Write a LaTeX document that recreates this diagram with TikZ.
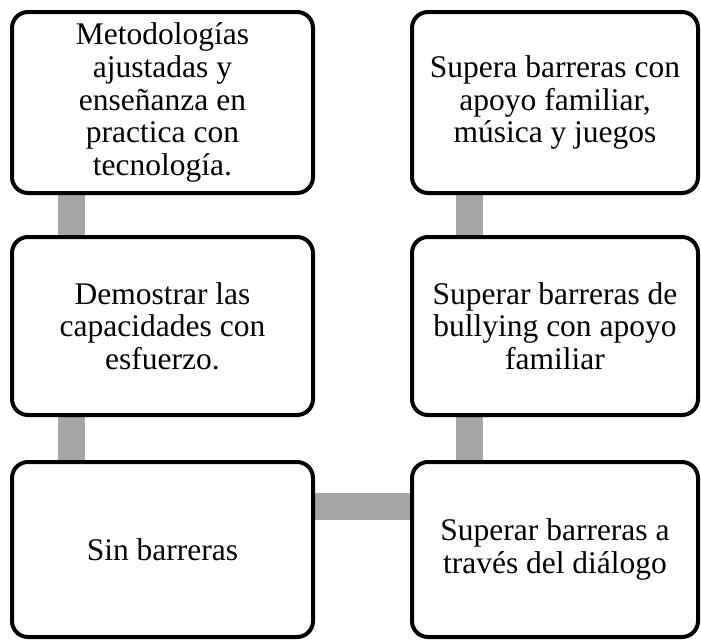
\documentclass[tikz,border=0pt]{standalone}
\usepackage{fontspec}
\setmainfont{Liberation Serif}
\usetikzlibrary{backgrounds,calc}
\definecolor{linkgray}{RGB}{166,166,166}
\begin{document}
\begin{tikzpicture}[x=1pt,y=-1pt,
  box/.style={draw=black, line width=4pt, rounded corners=16pt, fill=white,
    align=center, inner sep=0pt, font=\fontsize{31.5}{32.7}\selectfont},
  link/.style={draw=linkgray, line width=27pt}]
\useasboundingbox (0,0) rectangle (701,640);
\node[box, minimum width=301pt, minimum height=181pt] (tl) at (162.5,102.5)
  {Metodologías\\ajustadas y\\enseñanza en\\practica con\\tecnología.};
\node[box, minimum width=286pt, minimum height=181pt] (tr) at (555,102.5)
  {Supera barreras con\\apoyo familiar,\\música y juegos};
\node[box, minimum width=301pt, minimum height=178pt] (ml) at (162.5,326)
  {Demostrar las\\capacidades con\\esfuerzo.};
\node[box, minimum width=286pt, minimum height=178pt] (mr) at (555,326)
  {Superar barreras de\\bullying con apoyo\\familiar};
\node[box, minimum width=301pt, minimum height=175pt] (bl) at (162.5,549.5)
  {Sin barreras};
\node[box, minimum width=286pt, minimum height=175pt] (br) at (555,549.5)
  {Superar barreras a\\través del diálogo};
\begin{pgfonlayer}{background}
\draw[link] ($(tl.south west)+(61.5,0)$) -- ($(ml.north west)+(61.5,0)$);
\draw[link] ($(ml.south west)+(61.5,0)$) -- ($(bl.north west)+(61.5,0)$);
\draw[link] ($(bl.east)+(0,-43.5)$) -- ($(br.west)+(0,-43.5)$);
\draw[link] ($(br.north west)+(59,0)$) -- ($(mr.south west)+(59,0)$);
\draw[link] ($(mr.north west)+(59,0)$) -- ($(tr.south west)+(59,0)$);
\end{pgfonlayer}
\end{tikzpicture}
\end{document}
